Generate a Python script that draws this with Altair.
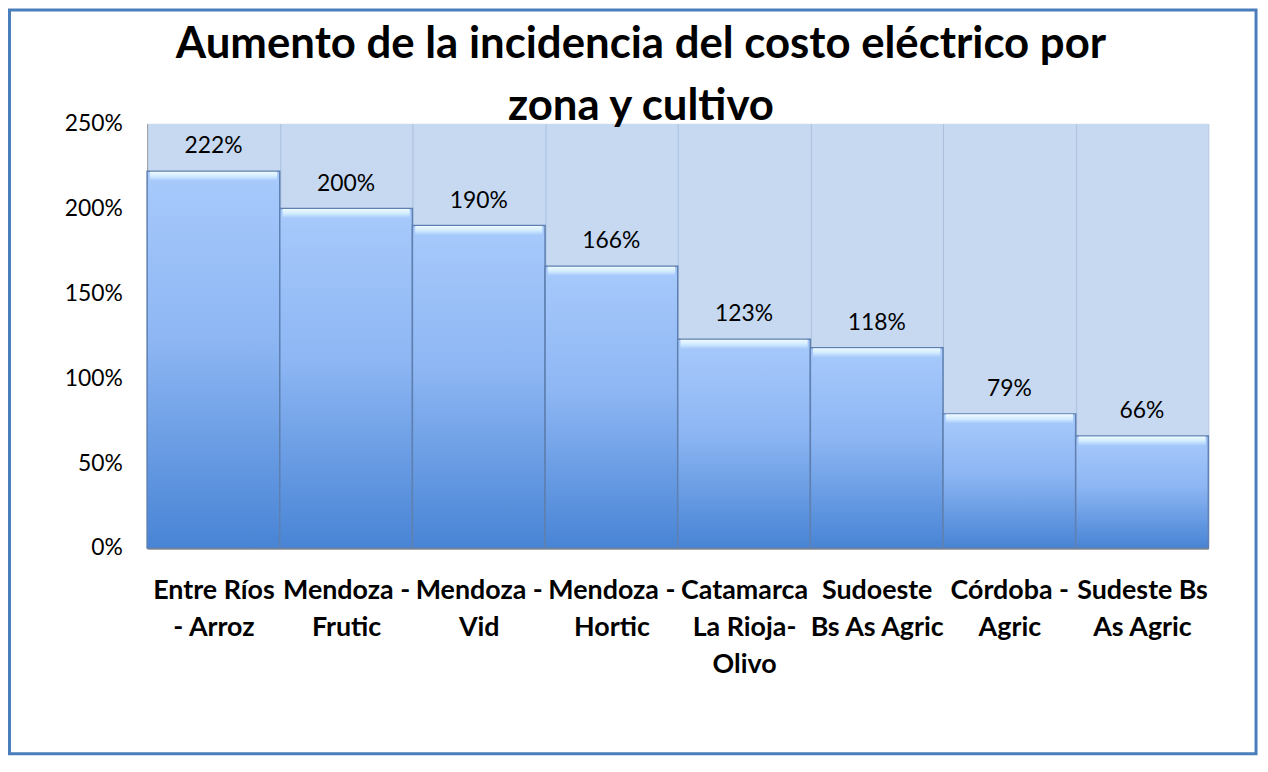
import altair as alt
import pandas as pd

categories = [
    "Entre Ríos|- Arroz",
    "Mendoza -|Frutic",
    "Mendoza -|Vid",
    "Mendoza -|Hortic",
    "Catamarca|La Rioja-|Olivo",
    "Sudoeste|Bs As Agric",
    "Córdoba -|Agric",
    "Sudeste Bs|As Agric",
]
values = [222, 200, 190, 166, 123, 118, 79, 66]
y_ticks = [0, 50, 100, 150, 200, 250]

df = pd.DataFrame({"cat": categories, "val": values})

FONT = "Lato"

x_enc = alt.X(
    "cat:N",
    sort=None,
    title=None,
    scale=alt.Scale(paddingInner=0, paddingOuter=0),
    axis=alt.Axis(
        labelExpr="split(datum.label, '|')",
        labelFont=FONT,
        labelFontSize=27,
        labelFontWeight="bold",
        labelColor="#000000",
        labelLineHeight=37,
        labelPadding=30,
        labelAngle=0,
        labelLimit=200,
        ticks=False,
        tickBand="extent",
        grid=True,
        gridColor="#a9bfdd",
        gridWidth=1,
        domainColor="#8c8c8c",
        domainWidth=2.5,
    ),
)
y_enc = alt.Y(
    "val:Q",
    title=None,
    scale=alt.Scale(domain=[0, 250], nice=False),
    axis=alt.Axis(
        values=y_ticks,
        labelExpr="datum.value + '%'",
        labelFont=FONT,
        labelFontSize=23,
        labelColor="#000000",
        labelPadding=25,
        ticks=False,
        grid=False,
        domainColor="#a0a0a0",
        domainWidth=1,
    ),
)

base = alt.Chart(df)

bars = base.mark_bar(
    color=alt.Gradient(
        gradient="linear",
        stops=[
            alt.GradientStop(color="#a8cafc", offset=0),
            alt.GradientStop(color="#8db6f3", offset=0.45),
            alt.GradientStop(color="#4884d5", offset=1),
        ],
        x1=0, x2=0, y1=0, y2=1,
    ),
    stroke="#5f80b0",
    strokeWidth=1.5,
).encode(x=x_enc, y=y_enc)

bevel = base.mark_tick(
    thickness=9,
    size=128,
    yOffset=5,
    color=alt.Gradient(
        gradient="linear",
        stops=[
            alt.GradientStop(color="#eefaff", offset=0),
            alt.GradientStop(color="#d2ecff", offset=0.5),
            alt.GradientStop(color="#a8cafc", offset=1),
        ],
        x1=0, x2=0, y1=0, y2=1,
    ),
    opacity=1,
).encode(x=alt.X("cat:N", sort=None), y="val:Q")

labels = alt.Chart(df).transform_calculate(lbl="datum.val + '%'").mark_text(
    font=FONT,
    fontSize=23,
    color="#000000",
    baseline="alphabetic",
    dy=-18,
).encode(x=alt.X("cat:N", sort=None), y="val:Q", text="lbl:N")

frame = alt.Chart(alt.Data(values=[{"a": 1}])).mark_rect(
    fill=None, stroke="#4a7ebb", strokeWidth=3
).encode(
    x=alt.value(-138.5), x2=alt.value(1116),
    y=alt.value(-114.5), y2=alt.value(634),
)

chart = alt.layer(bars, bevel, labels, frame).properties(
    width=1068,
    height=427,
    padding={"left": 140, "top": 114, "right": 52, "bottom": 211},
    autosize=alt.AutoSizeParams(type="none"),
    background="#ffffff",
    title=alt.TitleParams(
        text=["Aumento de la incidencia del costo eléctrico por", "zona y cultivo"],
        font=FONT,
        fontSize=44,
        fontWeight="bold",
        color="#000000",
        anchor="middle",
        baseline="bottom",
        lineHeight=62,
        offset=-165,
        dx=-37,
    ),
).configure_view(fill="#c6d9f1", stroke=None)

chart.save("out.html", embed_options={"renderer": "svg", "actions": False})
